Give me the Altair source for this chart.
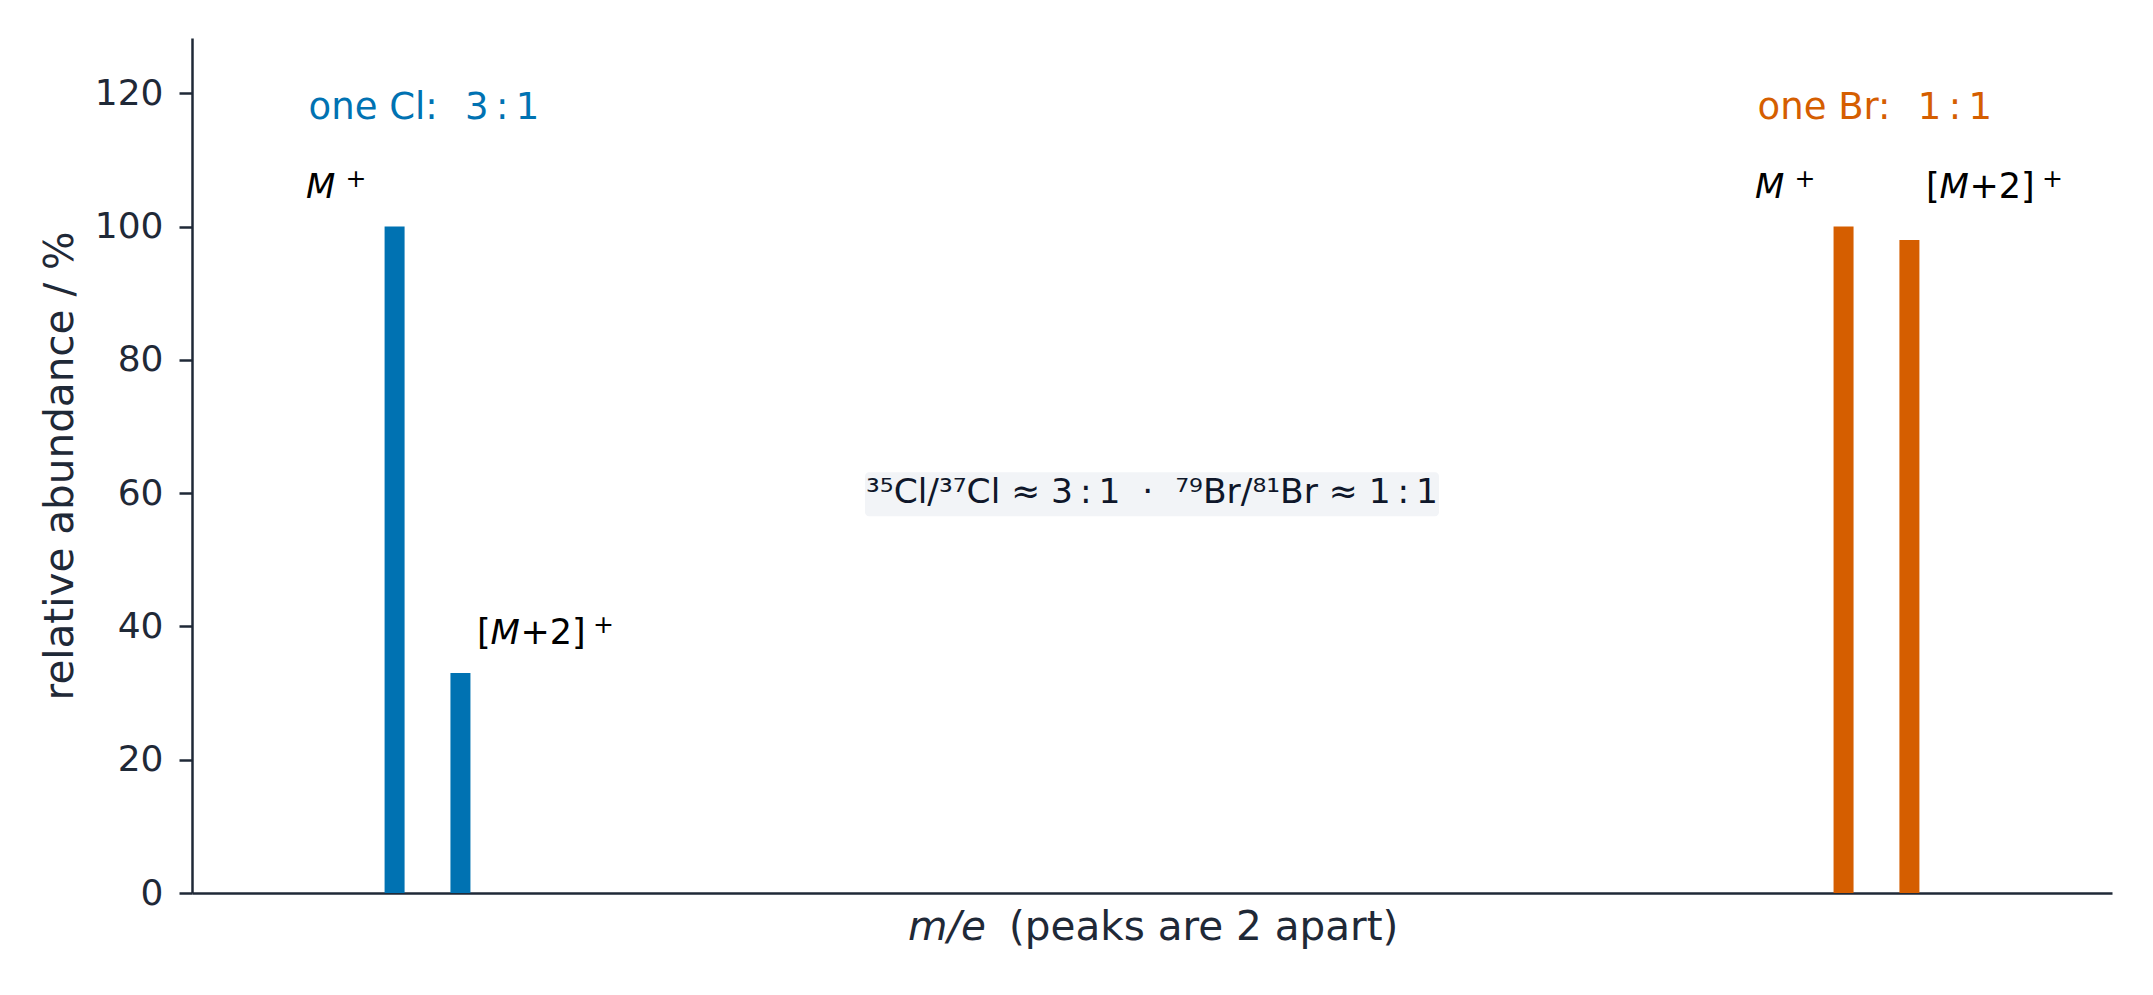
import altair as alt
import pandas as pd

# ---------------- data ----------------
groups = ["Cl", "Cl", "Br", "Br"]
mz = [35, 37, 79, 81]
abundance = [100, 33, 100, 98]
group_names = ["Cl", "Br"]
group_titles = ["one Cl:\u00a0\u00a0\u200a3\u2009:\u20091", "one Br:\u00a0\u00a0\u200a1\u2009:\u20091"]
group_anchor = [35, 79]
group_colors = ["#0072B2", "#D55E00"]
center_note = "\u00b3\u2075Cl/\u00b3\u2077Cl \u2248 3\u2009:\u20091 \u00a0\u00b7\u00a0 \u2077\u2079Br/\u2078\u00b9Br \u2248 1\u2009:\u20091"
x_title_italic = "m/e"
x_title_rest = "(peaks are 2 apart)"
y_title = "relative abundance / %"
y_ticks = [0, 20, 40, 60, 80, 100, 120]

# ---------------- layout ----------------
W, H = 1920, 855
XMIN, XMAX = 29, 87
YMIN, YMAX = 0, 128.3
pxx = W / (XMAX - XMIN)
pxy = H / (YMAX - YMIN)
INK = "#1f2937"
FONT = "DejaVu Sans"

xs = alt.Scale(domain=[XMIN, XMAX], nice=False, zero=False)
ys = alt.Scale(domain=[YMIN, YMAX], nice=False, zero=True)
cs = alt.Scale(domain=group_names, range=group_colors)

xaxis = alt.Axis(title=None, labels=False, ticks=False, grid=False,
                 domainWidth=2.5, domainColor=INK)
yaxis = alt.Axis(title=y_title, values=y_ticks, grid=False, tickSize=13, tickWidth=2.5,
                 tickColor=INK, domainWidth=2.5, domainColor=INK,
                 labelFontSize=36, labelColor=INK, labelPadding=16, labelFont=FONT,
                 titleFontSize=40.5, titleColor=INK, titleFont=FONT, titleFontWeight="normal",
                 titleAngle=270, titleX=-120, titleY=H / 2, titleAlign="center",
                 titleBaseline="alphabetic")

X = lambda f="x": alt.X(f"{f}:Q", scale=xs, axis=xaxis)
Y = lambda f="y": alt.Y(f"{f}:Q", scale=ys, axis=yaxis)

# bars
bars_df = pd.DataFrame({"x": mz, "y": abundance, "g": groups})
bars = alt.Chart(bars_df).mark_bar(size=20).encode(
    x=X(), y=Y(), color=alt.Color("g:N", scale=cs, legend=None)
)

# central note with box (box size in pixels around the note)
cx = (XMIN + XMAX) / 2
note_base = 58.5
box_df = pd.DataFrame({"x": [cx - 288.5 / pxx], "x2": [cx + 288.5 / pxx],
                       "y": [note_base - 13 / pxy], "y2": [note_base + 31 / pxy]})
box = alt.Chart(box_df).mark_rect(color="#f2f4f7", cornerRadius=4).encode(
    x=X(), x2="x2:Q", y=Y(), y2="y2:Q"
)
note_df = pd.DataFrame({"x": [cx], "y": [note_base], "t": [center_note]})
note = alt.Chart(note_df).mark_text(align="center", baseline="alphabetic", fontSize=34.5,
                                    font=FONT, color="#0f172a").encode(
    x=X(), y=Y(), text="t:N"
)

# group headers
head_df = pd.DataFrame({"x": group_anchor, "y": [116.2, 116.2], "t": group_titles, "g": group_names})
heads = alt.Chart(head_df).mark_text(align="left", baseline="alphabetic", fontSize=37,
                                     font=FONT, dx=-86).encode(
    x=X(), y=Y(), text="t:N", color=alt.Color("g:N", scale=cs, legend=None)
)

# peak labels
def ly(v):
    return v + 4.3 if v < 90 else 104.3

mplus_df = pd.DataFrame({"x": [mz[0], mz[2]], "y": [ly(abundance[0]), ly(abundance[2])]})
mp2_df = pd.DataFrame({"x": [mz[1], mz[3]], "y": [ly(abundance[1]), ly(abundance[3])]})

def piece(df, text, dx, italic=False, sup=False):
    kw = dict(align="left", baseline="alphabetic", font=FONT, color="#000000",
              fontSize=25 if sup else (34 if italic else 35), dx=dx, text=text)
    if italic:
        kw["fontStyle"] = "italic"
    if sup:
        kw["dy"] = -11
    return alt.Chart(df).mark_text(**kw).encode(x=X(), y=Y())

o1 = -88.6
o2 = 16.5
labels = [
    piece(mplus_df, "M", o1, italic=True),
    piece(mplus_df, "+", o1 + 39.5, sup=True),
    piece(mp2_df, "[", o2),
    piece(mp2_df, "M", o2 + 13.5, italic=True),
    piece(mp2_df, "+2]", o2 + 43.5),
    piece(mp2_df, "+", o2 + 116, sup=True),
]

# x-axis title (mixed italic / upright)
xt_df = pd.DataFrame({"x": [cx], "y": [0]})
xt1 = alt.Chart(xt_df).mark_text(align="left", baseline="alphabetic", fontSize=40.5, font=FONT,
                                 color=INK, fontStyle="italic", text=x_title_italic).encode(
    x=alt.value(716), y=alt.value(H + 47))
xt2 = alt.Chart(xt_df).mark_text(align="left", baseline="alphabetic", fontSize=40.5, font=FONT,
                                 color=INK, text=x_title_rest).encode(
    x=alt.value(817), y=alt.value(H + 47))

chart = alt.layer(box, note, bars, heads, *labels, xt1, xt2).properties(
    width=W, height=H,
    autosize=alt.AutoSizeParams(type="none"),
    padding={"left": 184, "top": 30, "right": 30, "bottom": 90},
).configure(font=FONT).configure_view(strokeWidth=0, stroke="transparent")

chart.save("out.html", embed_options={"renderer": "svg", "actions": False})
